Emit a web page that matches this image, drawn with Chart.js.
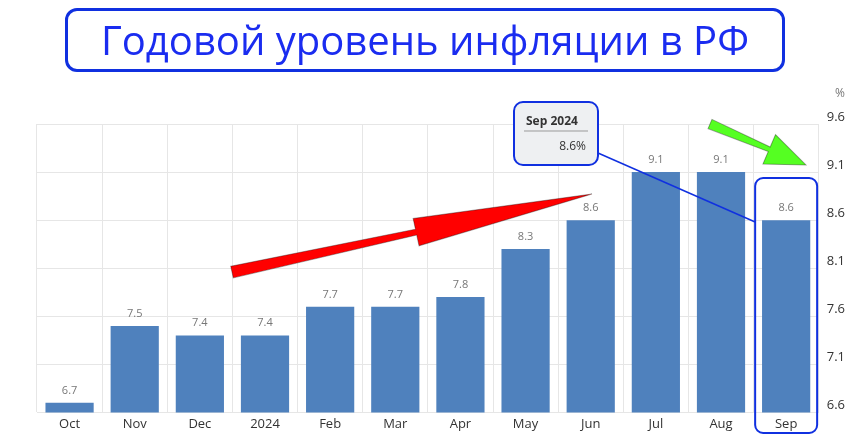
<!DOCTYPE html>
<html><head><meta charset="utf-8">
<script src="https://cdn.jsdelivr.net/npm/chart.js@4/dist/chart.umd.min.js"></script>
<style>
html,body{margin:0;padding:0;background:#fff;width:861px;height:444px;overflow:hidden}
#wrap{position:absolute;left:0;top:0;width:861px;height:444px}
#title{position:absolute;left:65px;top:8px;width:714px;height:58px;border:3px solid #1030e0;border-radius:12px;
font-family:"Open Sans",sans-serif;font-size:40px;color:#1a2cf0;text-align:center;line-height:58px;background:#fff;z-index:2}
</style></head><body>
<div id="wrap"><canvas id="c" width="861" height="444"></canvas></div>
<div id="title">Годовой уровень инфляции в РФ</div>
<script>
const categories=["Oct","Nov","Dec","2024","Feb","Mar","Apr","May","Jun","Jul","Aug","Sep"];
const values=[6.7,7.5,7.4,7.4,7.7,7.7,7.8,8.3,8.6,9.1,9.1,8.6];
const yTicks=[6.6,7.1,7.6,8.1,8.6,9.1,9.6];

function arrow(ctx,x1,y1,x2,y2,w,head,hw,color){
  const a=Math.atan2(y2-y1,x2-x1),L=Math.hypot(x2-x1,y2-y1);
  ctx.save();ctx.translate(x1,y1);ctx.rotate(a);
  ctx.beginPath();ctx.moveTo(0,-w/2);ctx.lineTo(L-head,-w*0.25);ctx.lineTo(L-head,-hw);ctx.lineTo(L,0);
  ctx.lineTo(L-head,hw);ctx.lineTo(L-head,w*0.25);ctx.lineTo(0,w/2);ctx.closePath();
  ctx.fillStyle=color;ctx.fill();ctx.strokeStyle='rgba(0,0,0,0.35)';ctx.lineWidth=1;ctx.stroke();ctx.restore();
}
function rr(ctx,x,y,w,h,r){ctx.beginPath();ctx.roundRect(x,y,w,h,r);}

const overlay={id:'overlay',afterDatasetsDraw(chart){
  const ctx=chart.ctx,x=chart.scales.x,y=chart.scales.y;
  ctx.save();
  ctx.font='11px "Open Sans",sans-serif';ctx.fillStyle='#777';ctx.textAlign='center';
  values.forEach((v,i)=>ctx.fillText(v.toFixed(1),x.getPixelForValue(i),y.getPixelForValue(v)-9));
  ctx.textAlign='left';ctx.font='12px "Open Sans",sans-serif';
  ctx.fillText('%',835,97);
  const sx=x.getPixelForValue(11);
  ctx.strokeStyle='#1030e0';ctx.lineWidth=2;
  rr(ctx,sx-31,178,62,255,8);ctx.stroke();
  ctx.lineWidth=1.5;ctx.beginPath();ctx.moveTo(598,153);ctx.lineTo(sx-31,222);ctx.stroke();
  rr(ctx,514,102,84,63,9);ctx.fillStyle='#eef0f2';ctx.fill();ctx.lineWidth=2;ctx.stroke();
  ctx.fillStyle='#333';ctx.font='bold 12px "Open Sans",sans-serif';ctx.textAlign='left';
  ctx.fillText('Sep 2024',526,125);
  ctx.strokeStyle='#999';ctx.lineWidth=1;ctx.beginPath();ctx.moveTo(524,131);ctx.lineTo(588,131);ctx.stroke();
  ctx.font='12px "Open Sans",sans-serif';ctx.textAlign='right';ctx.fillText('8.6%',586,150);
  arrow(ctx,232,272,592,194,12,180,14,'#ff0000');
  arrow(ctx,710,124,806,165,10,40,16,'#55ff22');
  ctx.restore();
}};

new Chart(document.getElementById('c'),{
  type:'bar',
  data:{labels:categories,datasets:[{data:values,backgroundColor:'#4f81bd',barPercentage:0.74,categoryPercentage:1}]},
  options:{responsive:false,animation:false,
    layout:{padding:{top:124,left:37,right:8,bottom:8}},
    plugins:{legend:{display:false},tooltip:{enabled:false}},
    scales:{
      x:{grid:{color:'#e6e6e6',drawTicks:false,offset:true},border:{display:false},
         ticks:{color:'#333',font:{size:13,family:'"Open Sans",sans-serif'},padding:4}},
      y:{position:'right',min:6.6,max:9.6,afterBuildTicks(s){s.ticks=yTicks.map(v=>({value:v}));},
         grid:{color:'#e6e6e6',drawTicks:false},border:{display:false},
         ticks:{color:'#333',font:{size:13,family:'"Open Sans",sans-serif'},padding:8,labelOffset:-7,callback:v=>v.toFixed(1)}}
    }},
  plugins:[overlay]
});
</script></body></html>
